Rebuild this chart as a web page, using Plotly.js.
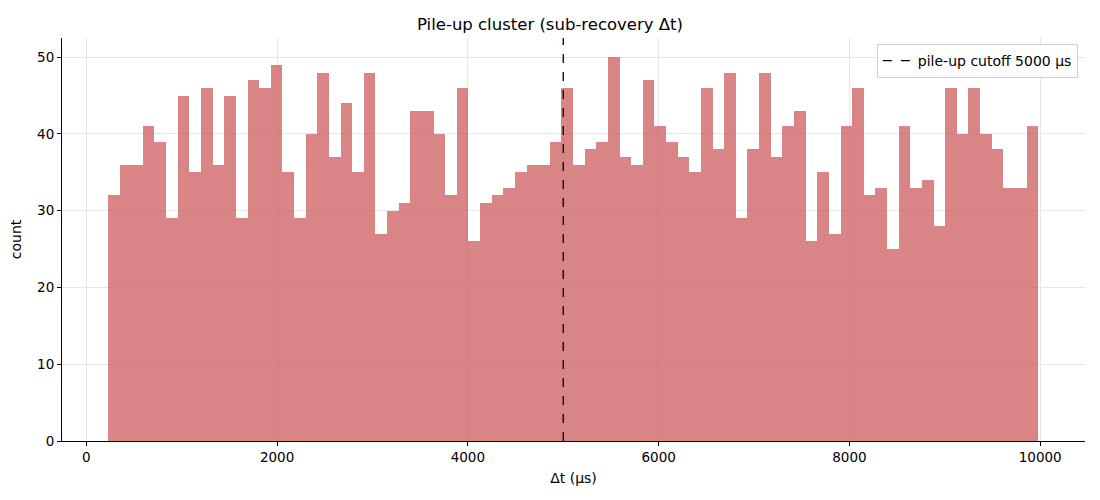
<!DOCTYPE html>
<html lang="en">

<head>
    <meta charset="UTF-8">
    <script src="https://cdn.plot.ly/plotly-3.0.1.min.js"></script>
    <title>Pile-up cluster</title>
    <style>
        body { margin: 0; background: #fff; }
        #chart { width: 1100px; height: 500px; }
    </style>
</head>

<body>
    <div id="chart"></div>

    <script>
        // histogram bins (µs)
        var bin_start = 227
        var bin_width = 121.9
        var counts = [
            32, 36, 36, 41, 39, 29, 45, 35, 46, 36,
            45, 29, 47, 46, 49, 35, 29, 40, 48, 37,
            44, 35, 48, 27, 30, 31, 43, 43, 40, 32,
            46, 26, 31, 32, 33, 35, 36, 36, 39, 46,
            36, 38, 39, 50, 37, 36, 47, 41, 39, 37,
            35, 46, 38, 48, 29, 38, 48, 37, 41, 43,
            26, 35, 27, 41, 46, 32, 33, 25, 41, 33,
            34, 28, 46, 40, 46, 40, 38, 33, 33, 41
        ]
        var cutoff = 5000
        var y_top = 52.5
        var x_ticks = [0, 2000, 4000, 6000, 8000, 10000]
        var y_ticks = [0, 10, 20, 30, 40, 50]

        var centers = counts.map(function(c, i) {
            return bin_start + bin_width * (i + 0.5)
        })

        var font = 'DejaVu Sans, sans-serif'

        var bars = {
            type: 'bar',
            x: centers,
            y: counts,
            width: bin_width,
            marker: { color: 'rgba(205,92,92,0.75)', line: { width: 0 } },
            showlegend: false,
            hoverinfo: 'x+y'
        }

        var cut = {
            type: 'scatter',
            mode: 'lines',
            x: [cutoff, cutoff],
            y: [0, y_top],
            line: { color: 'black', width: 1.3, dash: 'dash' },
            name: 'pile-up cutoff ' + cutoff + ' µs'
        }

        var layout = {
            width: 1100,
            height: 500,
            margin: { l: 62, r: 15, t: 38, b: 59 },
            paper_bgcolor: 'white',
            plot_bgcolor: 'white',
            font: { family: font, size: 13.5, color: '#000' },
            bargap: 0,
            title: {
                text: 'Pile-up cluster (sub-recovery Δt)',
                font: { family: font, size: 16.5 },
                x: 0.5, xanchor: 'center', y: 0.952, yanchor: 'middle'
            },
            xaxis: {
                range: [-255, 10470],
                tickvals: x_ticks,
                ticktext: x_ticks.map(String),
                ticks: 'outside', ticklen: 4, tickcolor: '#000',
                showline: true, linecolor: '#000', linewidth: 1,
                showgrid: true, gridcolor: '#e6e6e6', gridwidth: 1,
                zeroline: false,
                title: { text: 'Δt (µs)', font: { family: font, size: 14 }, standoff: 8 }
            },
            yaxis: {
                range: [0, y_top],
                tickvals: y_ticks,
                ticks: 'outside', ticklen: 4, tickcolor: '#000',
                showline: true, linecolor: '#000', linewidth: 1,
                showgrid: true, gridcolor: '#e6e6e6', gridwidth: 1,
                zeroline: false,
                title: { text: 'count', font: { family: font, size: 14 }, standoff: 12 }
            },
            legend: {
                x: 0.993, y: 0.985, xanchor: 'right', yanchor: 'top',
                bgcolor: 'rgba(255,255,255,0.85)',
                bordercolor: '#d0d0d0', borderwidth: 1,
                font: { family: font, size: 14 }
            }
        }

        Plotly.newPlot('chart', [bars, cut], layout, { displayModeBar: false, staticPlot: true })
    </script>
</body>

</html>
